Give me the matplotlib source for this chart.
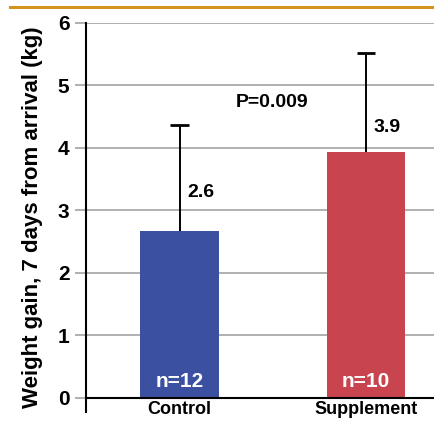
import matplotlib
matplotlib.use('Agg')
import matplotlib.pyplot as plt
from matplotlib.lines import Line2D

# data
groups = ['Control', 'Supplement']
means = [2.67, 3.93]
errs = [1.70, 1.59]
value_labels = ['2.6', '3.9']
n_labels = ['n=12', 'n=10']
bar_colors = ['#3b50a0', '#c8454f']
yticks = [0, 1, 2, 3, 4, 5, 6]
p_text = 'P=0.009'
ylabel = 'Weight gain, 7 days from arrival (kg)'

plt.rcParams['font.family'] = ['Liberation Sans', 'DejaVu Sans']

fig = plt.figure(figsize=(4.35, 4.38), dpi=100)
fig.set_facecolor('white')
ax = fig.add_axes([0.198, 0.0594, 0.802, 0.8881])

# orange rule on top
fig.add_artist(Line2D([10 / 435, 1.0], [1 - 7 / 438, 1 - 7 / 438],
                      color='#d4921f', linewidth=2.2))

x = list(range(len(groups)))
ax.bar(x, means, width=0.42, color=bar_colors, zorder=3)
tops = [m + e for m, e in zip(means, errs)]
ax.vlines(x, means, tops, color='black', linewidth=1.4, zorder=2)
ax.hlines(tops, [v - 0.05 for v in x], [v + 0.05 for v in x], color='black',
          linewidth=2.0, zorder=2)

label_off = [0.62, 0.40]
for i in range(len(groups)):
    ax.text(x[i] + 0.04, means[i] + label_off[i], value_labels[i], fontsize=14,
            fontweight='bold', ha='left', va='center', zorder=5)
    ax.text(x[i], 0.27, n_labels[i], fontsize=15, color='white',
            fontweight='bold', ha='center', va='center', zorder=5)

ax.text(0.496, 4.73, p_text, fontsize=14, fontweight='bold', ha='center', va='center')

ax.set_xlim(-0.501, 1.37)
ax.set_ylim(-0.225, 6.0)
ax.set_yticks(yticks)
ax.set_yticklabels([str(t) for t in yticks], fontsize=15, fontweight='bold')
ax.tick_params(axis='y', length=8, width=1.3, color='#aaaaaa', pad=4)
ax.set_xticks(x)
ax.set_xticklabels(groups, fontsize=13, fontweight='bold')
ax.tick_params(axis='x', length=0, pad=-8)

for t in yticks[1:]:
    ax.axhline(t, color='#aaaaaa', linewidth=1.3, zorder=1)
ax.axhline(0, color='black', linewidth=1.5, zorder=4)

for s in ['top', 'right', 'bottom']:
    ax.spines[s].set_visible(False)
ax.spines['left'].set_linewidth(1.5)

ax.set_ylabel(ylabel, fontsize=16, fontweight='bold')
ax.yaxis.set_label_coords(-0.125, 0.5)

fig.savefig('out.png', dpi=100)
